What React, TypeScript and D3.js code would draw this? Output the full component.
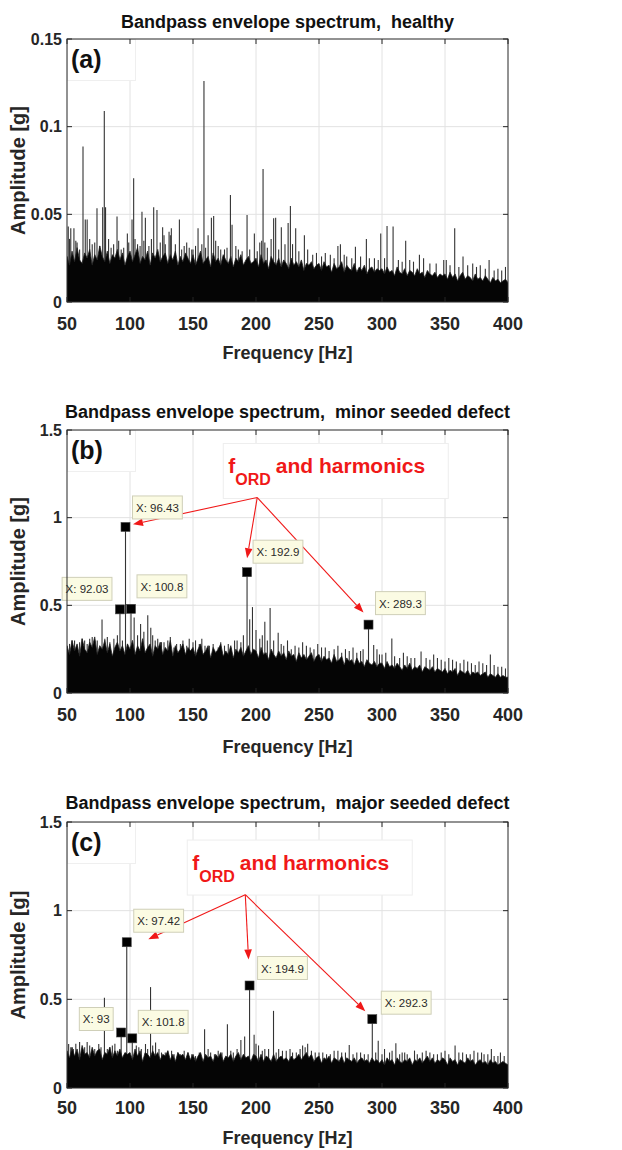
import React from "react";
import * as d3 from "d3";

const W = 622;
const H = 1150;
const FREQ_MIN = 50;
const FREQ_MAX = 400;
const BIN_HZ = 2;

const xTickValues = [50, 100, 150, 200, 250, 300, 350, 400];
const healthyYTicks = [0, 0.05, 0.1, 0.15];
const healthyYTickLabels = ["0", "0.05", "0.1", "0.15"];
const defectYTicks = [0, 0.5, 1, 1.5];
const defectYTickLabels = ["0", "0.5", "1", "1.5"];

const titles = [
  "Bandpass envelope spectrum,  healthy",
  "Bandpass envelope spectrum,  minor seeded defect",
  "Bandpass envelope spectrum,  major seeded defect",
];
const panelLetters = ["(a)", "(b)", "(c)"];

// noise floor top, one value every 2 Hz from 50 to 400 Hz
// healthy: milli-g
const healthyNoiseMg = [
  26, 21, 29, 23, 31, 24, 22, 28, 25, 30, 21, 27, 24, 32, 26, 23, 29, 22, 27, 25, 30, 24, 28, 21, 26,
  29, 23, 27, 31, 22, 26, 24, 29, 21, 28, 25, 30, 23, 26, 28, 22, 27, 24, 29, 21, 26, 23, 28, 25, 22,
  27, 21, 25, 29, 22, 24, 26, 20, 28, 23, 25, 21, 27, 24, 22, 26, 20, 25, 23, 27, 21, 24, 26, 22, 23,
  25, 20, 27, 22, 24, 19, 26, 23, 21, 25, 20, 24, 22, 19, 25, 21, 23, 20, 24, 18, 22, 21, 23, 19, 21,
  22, 18, 23, 20, 21, 17, 22, 19, 20, 23, 17, 21, 19, 18, 22, 17, 20, 18, 21, 16, 19, 20, 17, 19, 18,
  19, 16, 20, 17, 18, 15, 20, 17, 16, 19, 15, 18, 17, 15, 19, 16, 17, 14, 18, 16, 15, 17, 14, 16, 15,
  16, 13, 17, 14, 16, 12, 15, 17, 13, 15, 14, 12, 16, 13, 14, 12, 15, 13, 11, 14, 12, 13, 11, 12, 13, 11,
];
// minor / major defect: centi-g
const minorNoiseCg = [
  27, 22, 30, 24, 28, 21, 31, 25, 23, 29, 26, 32, 22, 27, 25, 30, 23, 28, 21, 26, 29, 24, 27, 22, 28,
  25, 30, 22, 27, 24, 31, 23, 26, 28, 21, 27, 25, 29, 22, 26, 24, 30, 21, 27, 23, 25, 28, 22, 26, 24,
  26, 21, 25, 28, 22, 24, 27, 20, 26, 23, 25, 28, 21, 24, 22, 27, 20, 25, 23, 26, 21, 24, 27, 22, 25,
  24, 20, 26, 22, 23, 19, 25, 22, 20, 24, 21, 23, 19, 24, 21, 22, 18, 23, 20, 22, 19, 21, 23, 18, 21,
  22, 18, 21, 19, 20, 17, 22, 18, 19, 21, 16, 20, 18, 19, 16, 20, 17, 18, 15, 19, 17, 16, 18, 15, 17,
  17, 14, 18, 15, 16, 14, 17, 15, 13, 16, 14, 17, 13, 15, 14, 16, 12, 15, 14, 13, 15, 12, 14, 13, 12,
  14, 11, 13, 12, 14, 10, 13, 12, 11, 13, 10, 12, 11, 12, 10, 11, 12, 9, 11, 10, 9, 11, 9, 10, 9, 9,
];
const majorNoiseCg = [
  21, 17, 23, 18, 22, 16, 24, 19, 20, 17, 23, 18, 21, 22, 16, 20, 19, 23, 17, 21, 18, 22, 17, 20, 19,
  20, 16, 22, 18, 21, 15, 20, 19, 17, 21, 18, 20, 16, 19, 18, 21, 16, 19, 15, 20, 18, 19, 16, 20, 16,
  19, 15, 18, 20, 15, 19, 17, 18, 15, 19, 17, 20, 15, 18, 17, 19, 15, 18, 20, 16, 19, 17, 18, 15, 19,
  18, 15, 19, 15, 18, 17, 15, 19, 15, 17, 18, 16, 17, 15, 18, 16, 17, 19, 16, 18, 20, 17, 19, 15, 17,
  18, 14, 17, 16, 18, 14, 17, 16, 15, 18, 14, 17, 16, 15, 17, 14, 16, 17, 15, 16, 14, 17, 15, 16, 14,
  16, 13, 17, 15, 16, 13, 17, 15, 14, 16, 15, 17, 13, 16, 15, 17, 14, 16, 18, 15, 17, 14, 16, 15, 17,
  16, 13, 17, 15, 16, 13, 16, 15, 14, 17, 15, 16, 13, 15, 16, 14, 15, 13, 16, 14, 15, 13, 14, 15, 14, 13,
];

// discrete spectral lines [frequency Hz, amplitude g]
const healthySpikes: [number, number][] = [
  [51, 0.043], [53, 0.042], [55.5, 0.042], [58, 0.034], [62.7, 0.0887], [64.5, 0.047], [66, 0.047],
  [70, 0.033], [73.8, 0.0534], [76, 0.032], [78.3, 0.054], [79.6, 0.109], [80.6, 0.054], [85, 0.031],
  [89.7, 0.0487], [93, 0.03], [97.9, 0.039], [101.6, 0.047], [102.9, 0.0706], [106, 0.033],
  [109.5, 0.0515], [112.2, 0.048], [115, 0.032], [118.8, 0.054], [121.4, 0.0525], [125.9, 0.0426],
  [128, 0.033], [132, 0.038], [132.8, 0.042], [139.2, 0.047], [143, 0.032], [147, 0.031], [150, 0.03],
  [154, 0.042], [158.7, 0.126], [162, 0.038], [164.6, 0.048], [166.4, 0.049], [170, 0.032], [175, 0.03],
  [179.7, 0.061], [181, 0.044], [186, 0.03], [192.9, 0.0496], [198.7, 0.039], [203, 0.034],
  [204.5, 0.035], [205.6, 0.0758], [209, 0.031], [214, 0.0477], [215.6, 0.048], [220.1, 0.0426],
  [225.5, 0.045], [227.3, 0.0548], [229, 0.033], [231.5, 0.042], [238.4, 0.038], [245, 0.027],
  [255, 0.028], [265, 0.032], [267, 0.033], [272, 0.026], [278.9, 0.0315], [287.6, 0.036], [294, 0.025],
  [299, 0.039], [304, 0.0433], [308.8, 0.043], [313, 0.024], [318.8, 0.035], [325, 0.023],
  [329.7, 0.027], [338, 0.022], [349, 0.024], [351, 0.024], [357.7, 0.042], [364.3, 0.026],
  [372, 0.022], [378, 0.021], [385, 0.024], [392, 0.019], [398, 0.02],
  [52, 0.036], [57, 0.035], [60, 0.03], [68, 0.036], [72, 0.034], [83, 0.036], [87, 0.033], [91, 0.035],
  [95, 0.031], [99, 0.034], [104, 0.036], [108, 0.032], [111, 0.035], [117, 0.036], [124, 0.034],
  [127, 0.038], [131, 0.04], [136, 0.033], [141, 0.03], [145, 0.034], [149, 0.03], [152, 0.032],
  [157, 0.033], [160, 0.031], [168, 0.035], [172, 0.03], [177, 0.031], [184, 0.032], [189, 0.029],
  [195, 0.03], [201, 0.029], [207, 0.034], [212, 0.036], [218, 0.03], [223, 0.033], [234, 0.029],
  [241, 0.03], [248, 0.028], [252, 0.026], [259, 0.027], [262, 0.025], [270, 0.027], [276, 0.025],
  [283, 0.026], [290, 0.025], [297, 0.024], [302, 0.025], [316, 0.023], [322, 0.024], [333, 0.025],
  [343, 0.022], [354, 0.021], [361, 0.02], [368, 0.021], [375, 0.02], [382, 0.019], [389, 0.018],
  [395, 0.018],
];
const minorSpikes: [number, number][] = [
  [52, 0.28], [56, 0.3], [60, 0.29], [64, 0.3], [68, 0.31], [72, 0.3], [77.8, 0.419], [82, 0.32],
  [87.2, 0.31], [90, 0.33], [92.03, 0.477], [96.43, 0.947], [100.8, 0.48], [103.3, 0.43], [106, 0.33],
  [108.4, 0.394], [111, 0.35], [114.1, 0.443], [116.5, 0.372], [120, 0.3], [125, 0.29], [130, 0.3],
  [134.9, 0.26], [140, 0.28], [145, 0.27], [150, 0.29], [155, 0.28], [159.5, 0.27], [163, 0.27],
  [170, 0.26], [175, 0.27], [180, 0.26], [185, 0.3], [188, 0.29], [192.9, 0.689], [195, 0.42],
  [197.2, 0.49], [200, 0.36], [203, 0.31], [207, 0.406], [211.2, 0.485], [214, 0.3], [217.6, 0.343],
  [222, 0.27], [228, 0.25], [234, 0.26], [240, 0.27], [246, 0.25], [252, 0.26], [258, 0.24],
  [262, 0.25], [268, 0.23], [274, 0.24], [280, 0.23], [285, 0.25], [289.3, 0.39], [293.4, 0.274],
  [298, 0.22], [303, 0.23], [307.8, 0.311], [314, 0.2], [320, 0.21], [326, 0.2], [331, 0.236],
  [338, 0.19], [344, 0.2], [350, 0.18], [356, 0.19], [362, 0.17], [368, 0.18], [374, 0.16],
  [380, 0.17], [386, 0.22], [392, 0.15], [398, 0.14],
  [54, 0.3], [58, 0.27], [62, 0.31], [66, 0.28], [70, 0.32], [74, 0.3], [80, 0.31], [84, 0.29],
  [94, 0.3], [98, 0.28], [118, 0.33], [122, 0.31], [127, 0.29], [132, 0.32], [137, 0.28], [142, 0.3],
  [147, 0.31], [152, 0.3], [157, 0.31], [166, 0.28], [172, 0.29], [178, 0.28], [183, 0.3], [190, 0.33],
  [205, 0.33], [209, 0.3], [220, 0.28], [225, 0.3], [231, 0.27], [237, 0.29], [243, 0.26], [249, 0.28],
  [255, 0.26], [265, 0.27], [271, 0.25], [277, 0.26], [283, 0.24], [296, 0.25], [300, 0.22],
  [310, 0.21], [317, 0.23], [323, 0.2], [335, 0.2], [341, 0.22], [347, 0.19], [353, 0.2], [359, 0.18],
  [365, 0.19], [371, 0.17], [377, 0.18], [383, 0.16], [389, 0.16], [395, 0.15],
];
const majorSpikes: [number, number][] = [
  [51.3, 0.248], [55, 0.22], [60, 0.26], [64, 0.23], [68, 0.24], [72, 0.22], [75.2, 0.248],
  [79.7, 0.509], [84, 0.23], [88, 0.25], [93, 0.313], [97.42, 0.822], [101.8, 0.28], [105, 0.24],
  [109, 0.22], [112.3, 0.248], [116.3, 0.569], [120.3, 0.257], [125, 0.2], [130, 0.21], [135, 0.19],
  [140, 0.19], [146, 0.2], [152, 0.18], [159.2, 0.332], [164, 0.2], [170, 0.21], [177.3, 0.36],
  [182, 0.2], [188, 0.27], [191, 0.29], [194.9, 0.578], [198.5, 0.3], [202, 0.24], [207, 0.22],
  [213.9, 0.435], [218, 0.22], [224, 0.21], [229, 0.2], [235, 0.22], [239, 0.23], [244, 0.21],
  [250, 0.2], [256, 0.19], [262, 0.21], [268, 0.2], [274, 0.243], [280, 0.2], [286, 0.19],
  [292.3, 0.388], [297, 0.267], [302, 0.22], [306, 0.2], [311, 0.252], [316, 0.2], [320, 0.19],
  [325.8, 0.211], [332, 0.2], [338, 0.2], [344, 0.19], [350, 0.21], [358, 0.239], [364, 0.2],
  [370, 0.19], [376, 0.2], [381, 0.19], [386.8, 0.22], [392, 0.18], [397, 0.18],
  [53, 0.23], [57, 0.25], [62, 0.22], [66, 0.26], [70, 0.21], [77, 0.23], [82, 0.22], [86, 0.24],
  [90, 0.21], [107, 0.23], [114, 0.22], [118, 0.24], [123, 0.22], [128, 0.2], [133, 0.21], [138, 0.2],
  [143, 0.21], [149, 0.19], [155, 0.2], [162, 0.22], [167, 0.19], [173, 0.2], [180, 0.21], [185, 0.22],
  [200, 0.25], [205, 0.21], [210, 0.22], [216, 0.2], [221, 0.21], [227, 0.22], [232, 0.2], [237, 0.24],
  [241, 0.25], [247, 0.2], [253, 0.2], [259, 0.19], [265, 0.21], [271, 0.2], [277, 0.19], [283, 0.2],
  [289, 0.19], [295, 0.2], [300, 0.19], [308, 0.21], [314, 0.19], [318, 0.2], [328, 0.19], [335, 0.21],
  [341, 0.19], [347, 0.2], [353, 0.19], [361, 0.2], [367, 0.19], [373, 0.21], [379, 0.2], [384, 0.19],
  [389, 0.18], [394, 0.2],
];

// data tips [frequency Hz, amplitude g]
const minorTips: [number, number][] = [[92.03, 0.477], [96.43, 0.947], [100.8, 0.48], [192.9, 0.689], [289.3, 0.39]];
const majorTips: [number, number][] = [[93, 0.313], [97.42, 0.822], [101.8, 0.28], [194.9, 0.578], [292.3, 0.388]];

// annotation anchors in data coordinates
const minorAnnotText: [number, number] = [178, 1.252];
const minorAnnotOrigin: [number, number] = [201, 1.115];
const majorAnnotText: [number, number] = [149.4, 1.229];
const majorAnnotOrigin: [number, number] = [191.5, 1.09];

// ---------- layout (pixels) ----------
const PLOT_LEFT = 67;
const PLOT_RIGHT = 508;
const FONT = "'Liberation Sans', Arial, Helvetica, sans-serif";
const RED = "#f01818";

type TipLayout = { side: "left" | "right"; gap: number; dy: number };
type ArrowLayout = { tip: number; dx: number; dy: number };

const panels = [
  {
    top: 39, bottom: 302, titleY: 28, tickY: 330, xLabelY: 359,
    yMax: 0.15, yTicks: healthyYTicks, yTickLabels: healthyYTickLabels,
    noise: healthyNoiseMg, unit: 0.001, spikes: healthySpikes,
    tips: [] as [number, number][], tipLayout: [] as TipLayout[],
    annot: null as null | { text: [number, number]; origin: [number, number]; arrows: ArrowLayout[] },
  },
  {
    top: 430, bottom: 693, titleY: 418, tickY: 721, xLabelY: 753,
    yMax: 1.5, yTicks: defectYTicks, yTickLabels: defectYTickLabels,
    noise: minorNoiseCg, unit: 0.01, spikes: minorSpikes,
    tips: minorTips,
    tipLayout: [
      { side: "left", gap: 8, dy: -32 },
      { side: "right", gap: 7, dy: -31 },
      { side: "right", gap: 6, dy: -34 },
      { side: "right", gap: 6, dy: -32 },
      { side: "right", gap: 7, dy: -33 },
    ] as TipLayout[],
    annot: {
      text: minorAnnotText, origin: minorAnnotOrigin,
      arrows: [
        { tip: 1, dx: 7.5, dy: -2.6 },
        { tip: 3, dx: 0, dy: -14 },
        { tip: 4, dx: -5, dy: -12 },
      ],
    },
  },
  {
    top: 822, bottom: 1088, titleY: 809, tickY: 1114, xLabelY: 1144,
    yMax: 1.5, yTicks: defectYTicks, yTickLabels: defectYTickLabels,
    noise: majorNoiseCg, unit: 0.01, spikes: majorSpikes,
    tips: majorTips,
    tipLayout: [
      { side: "left", gap: 8, dy: -25 },
      { side: "right", gap: 7, dy: -33 },
      { side: "right", gap: 6, dy: -28 },
      { side: "right", gap: 8, dy: -29 },
      { side: "right", gap: 9, dy: -28 },
    ] as TipLayout[],
    annot: {
      text: majorAnnotText, origin: majorAnnotOrigin,
      arrows: [
        { tip: 1, dx: 21.6, dy: -3 },
        { tip: 3, dx: -1, dy: -26 },
        { tip: 4, dx: -7, dy: -8 },
      ],
    },
  },
];

const CHAR_W: Record<string, number> = { X: 0.667, ":": 0.278, " ": 0.278, ".": 0.278 };
function textWidth(s: string, size: number) {
  let w = 0;
  for (const c of s) w += CHAR_W[c] ?? 0.556;
  return w * size;
}

function arrow(x1: number, y1: number, x2: number, y2: number, len = 10, hw = 3.8) {
  const dx = x2 - x1, dy = y2 - y1;
  const L = Math.hypot(dx, dy);
  const ux = dx / L, uy = dy / L;
  const bx = x2 - ux * len, by = y2 - uy * len;
  return {
    line: `M${x1},${y1}L${bx},${by}`,
    head: `M${x2},${y2}L${bx - uy * hw},${by + ux * hw}L${bx + uy * hw},${by - ux * hw}Z`,
  };
}

function Panel({ p, idx }: { p: (typeof panels)[number]; idx: number }) {
  const x = d3.scaleLinear().domain([FREQ_MIN, FREQ_MAX]).range([PLOT_LEFT, PLOT_RIGHT]);
  const y = d3.scaleLinear().domain([0, p.yMax]).range([p.bottom, p.top]);
  const noisePts = p.noise.map((v, i) => [FREQ_MIN + i * BIN_HZ, v * p.unit] as [number, number]);
  const area = d3
    .area<[number, number]>()
    .x((d) => x(d[0]))
    .y0(y(0))
    .y1((d) => y(d[1]))
    .curve(d3.curveLinear);
  const clipId = `clip${idx}`;
  const cx = (PLOT_LEFT + PLOT_RIGHT) / 2;
  const cy = (p.top + p.bottom) / 2;
  const tipFont = 11.5;

  const tipBoxes = p.tips.map((t, i) => {
    const mx = x(t[0]);
    const my = y(t[1]);
    const label = `X: ${t[0]}`;
    const bw = textWidth(label, tipFont) + 7;
    const bh = 23;
    const lay = p.tipLayout[i];
    const bx = lay.side === "right" ? mx + lay.gap : mx - lay.gap - bw;
    const by = my + lay.dy;
    return { mx, my, label, bx, by, bw, bh };
  });

  let annotEls: React.ReactNode = null;
  if (p.annot) {
    const tx = x(p.annot.text[0]);
    const ty = y(p.annot.text[1]);
    const ox = x(p.annot.origin[0]);
    const oy = y(p.annot.origin[1]);
    annotEls = (
      <g>
        <rect x={tx - 5} y={ty - 30} width={225} height={55} fill="#fff" stroke="#eeeeee" strokeWidth={1} />
        <text x={tx} y={ty} fill={RED} fontFamily={FONT} fontWeight="bold" fontSize={21}>
          <tspan>f</tspan>
          <tspan fontSize={16} dy={12}>ORD</tspan>
          <tspan fontSize={21} dy={-12} dx={5}>and harmonics</tspan>
        </text>
        {p.annot.arrows.map((a, i) => {
          const tb = tipBoxes[a.tip];
          const ar = arrow(ox, oy, tb.mx + a.dx, tb.my + a.dy);
          return (
            <g key={i}>
              <path d={ar.line} stroke={RED} strokeWidth={1.1} fill="none" />
              <path d={ar.head} fill={RED} stroke="none" />
            </g>
          );
        })}
      </g>
    );
  }

  return (
    <g>
      <defs>
        <clipPath id={clipId}>
          <rect x={PLOT_LEFT} y={p.top} width={PLOT_RIGHT - PLOT_LEFT} height={p.bottom - p.top} />
        </clipPath>
      </defs>
      <rect x={PLOT_LEFT} y={p.top} width={PLOT_RIGHT - PLOT_LEFT} height={p.bottom - p.top} fill="#fff" />
      {/* grid */}
      <g stroke="#e2e2e2" strokeWidth={1}>
        {xTickValues.slice(1, -1).map((v) => (
          <line key={v} x1={x(v)} x2={x(v)} y1={p.top} y2={p.bottom} />
        ))}
        {p.yTicks.slice(1, -1).map((v) => (
          <line key={v} x1={PLOT_LEFT} x2={PLOT_RIGHT} y1={y(v)} y2={y(v)} />
        ))}
      </g>
      <g clipPath={`url(#${clipId})`}>
        <g stroke="#333" strokeWidth={1.1}>
          {p.spikes.map((s, i) => (
            <line key={i} x1={x(s[0])} x2={x(s[0])} y1={y(0)} y2={y(s[1])} />
          ))}
        </g>
        <path d={area(noisePts) || ""} fill="#050505" stroke="#222" strokeWidth={0.8} />
      </g>
      {/* panel letter box */}
      <rect x={PLOT_LEFT + 0.5} y={p.top + 0.5} width={68} height={41} fill="#fff" stroke="#efefef" />
      <text x={PLOT_LEFT + 4} y={p.top + 29} fontFamily={FONT} fontWeight="bold" fontSize={25} fill="#111">
        {panelLetters[idx]}
      </text>
      {annotEls}
      {/* data tips */}
      {tipBoxes.map((t, i) => (
        <g key={i}>
          <rect x={t.mx - 4.5} y={t.my - 4.5} width={9} height={9} fill="#000" stroke="#444" strokeWidth={0.6} />
          <rect x={t.bx} y={t.by} width={t.bw} height={t.bh} fill="#fbfbe3" stroke="#cfcfb8" strokeWidth={1} />
          <text x={t.bx + 3.5} y={t.by + 16} fontFamily={FONT} fontSize={tipFont} fill="#2a2a2a">
            {t.label}
          </text>
        </g>
      ))}
      {/* axes box and ticks */}
      <rect x={PLOT_LEFT} y={p.top} width={PLOT_RIGHT - PLOT_LEFT} height={p.bottom - p.top} fill="none" stroke="#262626" strokeWidth={1} />
      <g stroke="#262626" strokeWidth={1}>
        {xTickValues.map((v) => (
          <g key={v}>
            <line x1={x(v)} x2={x(v)} y1={p.bottom} y2={p.bottom - 5} />
            <line x1={x(v)} x2={x(v)} y1={p.top} y2={p.top + 5} />
          </g>
        ))}
        {p.yTicks.map((v) => (
          <g key={v}>
            <line x1={PLOT_LEFT} x2={PLOT_LEFT + 5} y1={y(v)} y2={y(v)} />
            <line x1={PLOT_RIGHT} x2={PLOT_RIGHT - 5} y1={y(v)} y2={y(v)} />
          </g>
        ))}
      </g>
      {/* tick labels */}
      <g fontFamily={FONT} fontWeight="bold" fill="#262626">
        {xTickValues.map((v) => (
          <text key={v} x={x(v)} y={p.tickY} fontSize={18} textAnchor="middle">
            {v}
          </text>
        ))}
        {p.yTicks.map((v, i) => (
          <text key={v} x={PLOT_LEFT - 5} y={y(v)} dy="0.36em" fontSize={16} textAnchor="end">
            {p.yTickLabels[i]}
          </text>
        ))}
      </g>
      {/* labels */}
      <text x={cx} y={p.xLabelY} fontFamily={FONT} fontWeight="bold" fontSize={18} textAnchor="middle" fill="#262626">
        Frequency [Hz]
      </text>
      <text
        transform={`translate(25,${cy}) rotate(-90)`}
        fontFamily={FONT}
        fontWeight="bold"
        fontSize={20}
        textAnchor="middle"
        fill="#262626"
      >
        Amplitude [g]
      </text>
      <text
        x={cx}
        y={p.titleY}
        fontFamily={FONT}
        fontWeight="bold"
        fontSize={18}
        textAnchor="middle"
        fill="#111"
        style={{ whiteSpace: "pre" }}
      >
        {titles[idx]}
      </text>
    </g>
  );
}

export default function App() {
  return (
    <div style={{ position: "absolute", left: 0, top: 0 }}>
      <svg width={W} height={H} viewBox={`0 0 ${W} ${H}`} style={{ display: "block", background: "#fff" }}>
        <rect width={W} height={H} fill="#fff" />
        {panels.map((p, i) => (
          <Panel key={i} p={p} idx={i} />
        ))}
      </svg>
    </div>
  );
}
